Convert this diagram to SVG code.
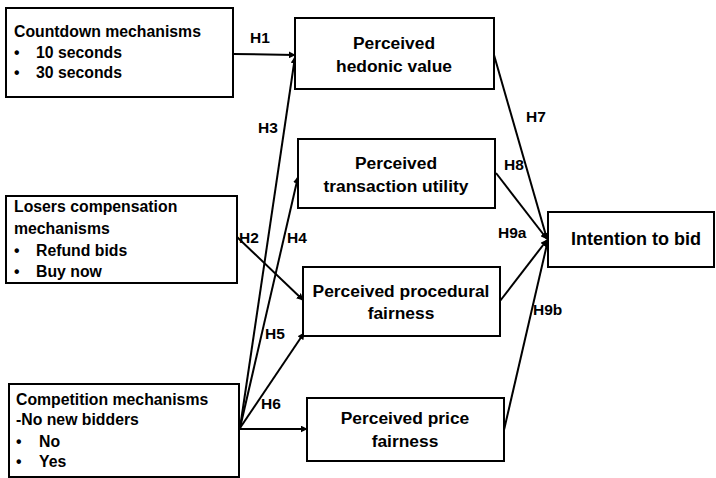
<svg xmlns="http://www.w3.org/2000/svg" width="716" height="478" viewBox="0 0 716 478">
  <defs>
    <marker id="arrow" viewBox="0 0 10 10" refX="9" refY="5" markerWidth="7" markerHeight="7" markerUnits="userSpaceOnUse" orient="auto">
      <path d="M0,0 L10,5 L0,10 Z" fill="#000"/>
    </marker>
    <style>
      .box { fill: #fff; stroke: #000; stroke-width: 2; }
      .lbl { font-family: "Liberation Sans", Arial, sans-serif; font-weight: bold; fill: #000; }
      .in { font-size: 15.8px; }
      .med { font-size: 17.4px; text-anchor: middle; }
      .out { font-size: 18px; text-anchor: middle; }
      .hyp { font-size: 15.5px; }
      .edge { fill: none; stroke: #000; stroke-width: 2; marker-end: url(#arrow); }
    </style>
  </defs>

  <rect width="716" height="478" fill="#fff"/>

  <!-- connectors -->
  <g id="connectors">
    <line class="edge" x1="233" y1="54" x2="295" y2="55"/>
    <line class="edge" x1="240" y1="428" x2="295" y2="57"/>
    <line class="edge" x1="240" y1="428" x2="298" y2="177"/>
    <line class="edge" x1="237" y1="237" x2="303" y2="300"/>
    <line class="edge" x1="240" y1="428" x2="304" y2="333"/>
    <line class="edge" x1="240" y1="429" x2="307" y2="429"/>
    <line class="edge" x1="494" y1="55" x2="547" y2="239"/>
    <line class="edge" x1="496" y1="173" x2="547" y2="239"/>
    <line class="edge" x1="500" y1="301" x2="547" y2="240"/>
    <line class="edge" x1="504" y1="430" x2="548" y2="240"/>

    <text class="lbl hyp" x="250" y="43">H1</text>
    <text class="lbl hyp" x="258" y="133">H3</text>
    <text class="lbl hyp" x="239" y="243">H2</text>
    <text class="lbl hyp" x="287" y="243">H4</text>
    <text class="lbl hyp" x="265" y="339">H5</text>
    <text class="lbl hyp" x="261" y="409">H6</text>
    <text class="lbl hyp" x="526" y="122">H7</text>
    <text class="lbl hyp" x="504" y="170">H8</text>
    <text class="lbl hyp" x="498" y="238">H9a</text>
    <text class="lbl hyp" x="533" y="315">H9b</text>
  </g>

  <!-- independent variables -->
  <g id="countdown">
    <rect class="box" x="6" y="8" width="227" height="89"/>
    <text class="lbl in" x="14" y="37">Countdown mechanisms</text>
    <text class="lbl in" x="14" y="58">•</text>
    <text class="lbl in" x="36" y="58">10 seconds</text>
    <text class="lbl in" x="14" y="78">•</text>
    <text class="lbl in" x="36" y="78">30 seconds</text>
  </g>

  <g id="losers">
    <rect class="box" x="6" y="196" width="231" height="87"/>
    <text class="lbl in" x="14" y="212">Losers compensation</text>
    <text class="lbl in" x="14" y="234">mechanisms</text>
    <text class="lbl in" x="14" y="256">•</text>
    <text class="lbl in" x="36" y="256">Refund bids</text>
    <text class="lbl in" x="14" y="277">•</text>
    <text class="lbl in" x="36" y="277">Buy now</text>
  </g>

  <g id="competition">
    <rect class="box" x="9" y="384" width="230" height="93"/>
    <text class="lbl in" x="16" y="405">Competition mechanisms</text>
    <text class="lbl in" x="16" y="425">-No new bidders</text>
    <text class="lbl in" x="16" y="447">•</text>
    <text class="lbl in" x="39" y="447">No</text>
    <text class="lbl in" x="16" y="467">•</text>
    <text class="lbl in" x="39" y="467">Yes</text>
  </g>

  <!-- mediators -->
  <g id="hedonic">
    <rect class="box" x="295" y="18" width="199" height="71"/>
    <text class="lbl med" x="394" y="49">Perceived</text>
    <text class="lbl med" x="394" y="72">hedonic value</text>
  </g>

  <g id="transaction">
    <rect class="box" x="298" y="139" width="197" height="69"/>
    <text class="lbl med" x="396" y="169">Perceived</text>
    <text class="lbl med" x="396" y="192">transaction utility</text>
  </g>

  <g id="procedural">
    <rect class="box" x="303" y="267" width="197" height="69"/>
    <text class="lbl med" x="401" y="297">Perceived procedural</text>
    <text class="lbl med" x="401" y="319">fairness</text>
  </g>

  <g id="price">
    <rect class="box" x="307" y="398" width="197" height="63"/>
    <text class="lbl med" x="405" y="424">Perceived price</text>
    <text class="lbl med" x="405" y="447">fairness</text>
  </g>

  <!-- outcome -->
  <g id="intention">
    <rect class="box" x="548" y="212" width="166" height="55"/>
    <text class="lbl out" x="636" y="245">Intention to bid</text>
  </g>
</svg>
